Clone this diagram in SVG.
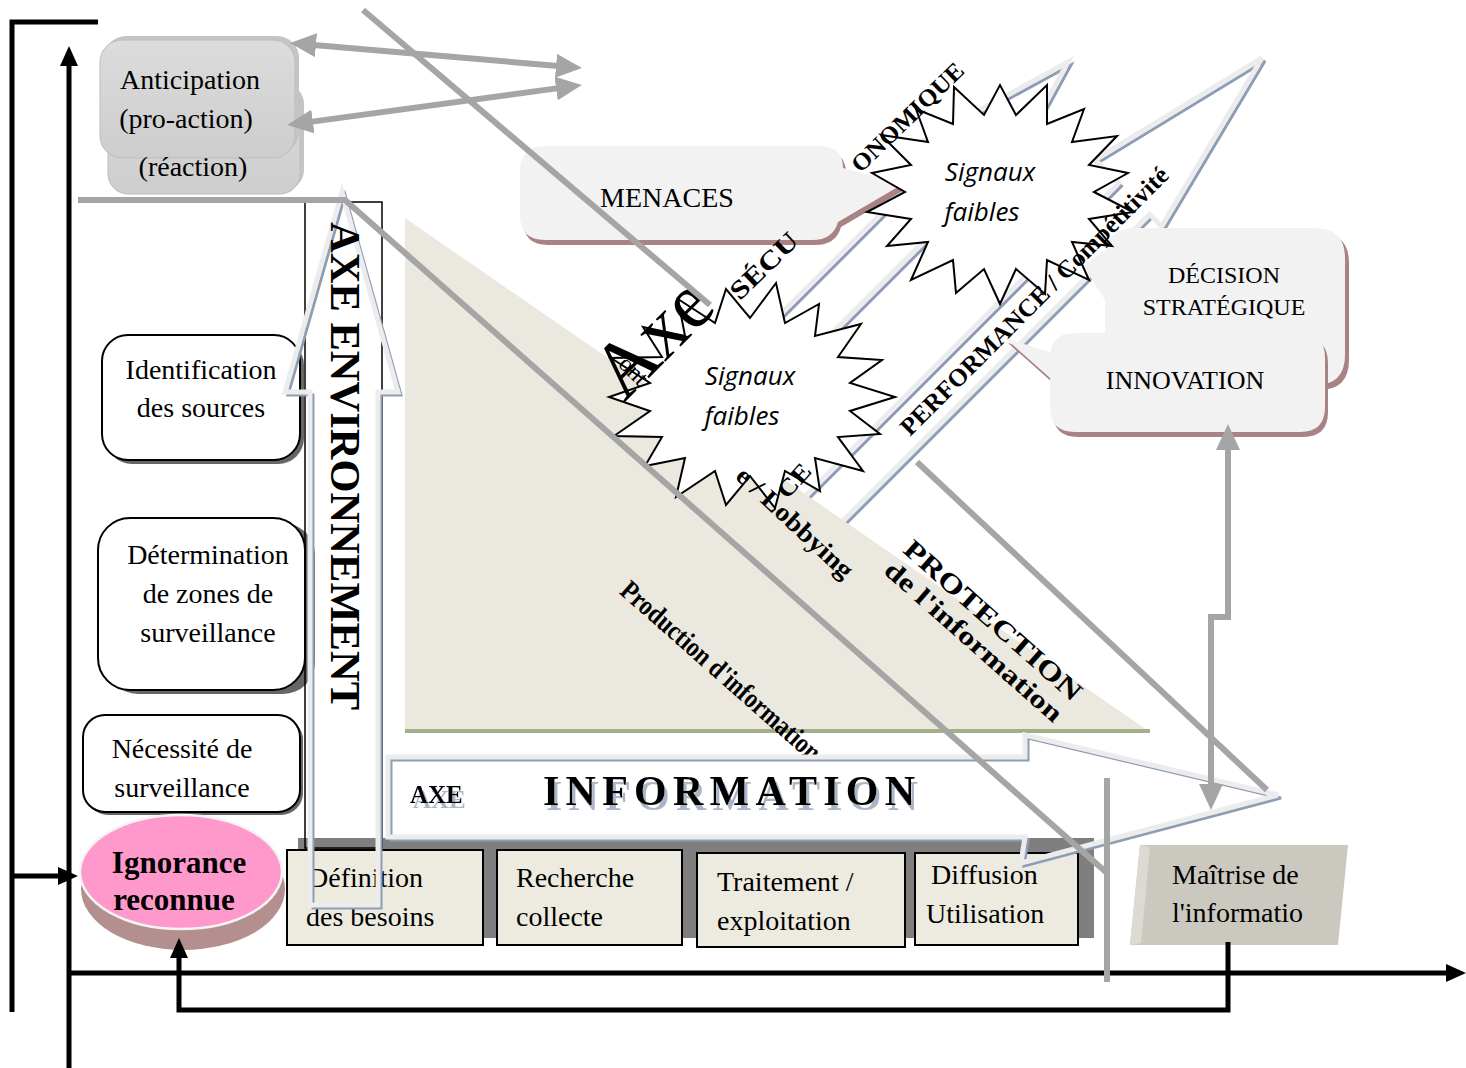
<svg xmlns="http://www.w3.org/2000/svg" width="1466" height="1068" viewBox="0 0 1466 1068">
<defs>
<style>
.serif{font-family:'Liberation Serif','Times New Roman',serif;fill:#000}
.t28{font-size:28px}
.b{font-weight:bold}
.sig{font-family:'Open Sans','Liberation Sans',sans-serif;font-style:italic;font-size:26px;text-anchor:middle;fill:#000}
.gl{stroke:#a5a5a5;stroke-width:6;fill:none}
.bl{stroke:#000;stroke-width:5;fill:none;stroke-linejoin:miter}
.hs{fill:none;stroke:#8d9db3;stroke-width:3}
.ho{fill:none;stroke:#ececec;stroke-width:5}
.cs{fill:#a98383}
.cf{fill:#f2f2f2}
.box{fill:#edebe0;stroke:#000;stroke-width:2}
.wb{fill:#fff;stroke:#000;stroke-width:2}
.star{fill:#fff;stroke:#000;stroke-width:2}
</style>
<linearGradient id="gg" x1="0" y1="0" x2="0" y2="1">
<stop offset="0" stop-color="#dcdcdc"/><stop offset="1" stop-color="#cdcdcd"/>
</linearGradient>
<filter id="tsh" x="-5%" y="-20%" width="115%" height="170%">
<feFlood flood-color="#aab5c8"/><feComposite in2="SourceAlpha" operator="in"/><feOffset dx="3" dy="5" result="s"/>
<feMerge><feMergeNode in="s"/><feMergeNode in="SourceGraphic"/></feMerge>
</filter>
<marker id="ge" viewBox="0 0 26 24" refX="8" refY="12" markerWidth="26" markerHeight="24" markerUnits="userSpaceOnUse" orient="auto"><path d="M0,0 L26,12 L0,24 Z" fill="#a5a5a5"/></marker>
<marker id="gs" viewBox="0 0 26 24" refX="18" refY="12" markerWidth="26" markerHeight="24" markerUnits="userSpaceOnUse" orient="auto"><path d="M26,0 L0,12 L26,24 Z" fill="#a5a5a5"/></marker>
<marker id="be" viewBox="0 0 20 18" refX="6" refY="9" markerWidth="20" markerHeight="18" markerUnits="userSpaceOnUse" orient="auto"><path d="M0,0 L20,9 L0,18 Z" fill="#000"/></marker>
<polygon id="a1" points="0,0 -170,50 -170,25 -600,25 -600,-25 -170,-25 -170,-50"/>
<polygon id="a2" points="0,0 -190,48 -190,31 -660,31 -660,-13 -190,-13 -190,-46"/>
<polygon id="ae" points="342,192 398,392 378,392 378,905 310,905 310,392 285,392"/>
<polygon id="ai" points="388,757 1025,757 1025,735 1278,795 1021,863 1025,837 388,837"/>
</defs>
<rect width="1466" height="1068" fill="#fff"/>

<g id="black-axes">
<path class="bl" stroke-width="6" d="M12,1012 V22 H98"/>
<path class="bl" d="M12,876 H64" marker-end="url(#be)"/>
<path class="bl" d="M69,1068 V60" marker-end="url(#be)"/>
<path class="bl" d="M69,973 H1452" marker-end="url(#be)"/>
</g>

<g id="anticipation">
<rect x="112" y="84" width="192" height="106" rx="20" fill="#c4c4c4"/>
<rect x="108" y="88" width="192" height="106" rx="20" fill="url(#gg)" stroke="#bdbdbd"/>
<rect x="104" y="36" width="195" height="118" rx="22" fill="#c4c4c4"/>
<rect x="100" y="40" width="195" height="118" rx="22" fill="url(#gg)" stroke="#bdbdbd"/>
<text class="serif t28" text-anchor="middle" x="190" y="89">Anticipation</text>
<text class="serif t28" text-anchor="middle" x="186" y="128">(pro-action)</text>
<text class="serif t28" text-anchor="middle" x="193" y="176">(réaction)</text>
</g>

<g id="axe-securite-arrow">
<use href="#a1" class="hs" transform="translate(1071,65) rotate(-45)"/>
<use href="#a1" class="ho" transform="translate(1068,62) rotate(-45)"/>
</g>
<g id="performance-arrow">
<use href="#a2" class="hs" transform="translate(1265,61) rotate(-45)"/>
<use href="#a2" class="ho" transform="translate(1262,58) rotate(-45)"/>
</g>

<g id="menaces">
<path class="cs" transform="translate(3,5)" d="M545,146 H818 Q843,146 843,168 L903,184 L838,222 Q833,240 812,240 H545 Q520,240 520,215 V171 Q520,146 545,146 Z"/>
<path class="cf" d="M545,146 H818 Q843,146 843,168 L903,184 L838,222 Q833,240 812,240 H545 Q520,240 520,215 V171 Q520,146 545,146 Z"/>
<text class="serif t28" text-anchor="middle" x="667" y="207">MENACES</text>
</g>

<g id="decision">
<path class="cs" transform="translate(4,5)" d="M1135,228 H1315 Q1345,228 1345,258 V355 Q1345,385 1315,385 H1135 Q1105,385 1105,355 V300 L1083,266 L1105,250 V258 Q1105,228 1135,228 Z"/>
<path class="cf" d="M1135,228 H1315 Q1345,228 1345,258 V355 Q1345,385 1315,385 H1135 Q1105,385 1105,355 V300 L1083,266 L1105,250 V258 Q1105,228 1135,228 Z"/>
<text class="serif" font-size="24" text-anchor="middle" x="1224" y="283">DÉCISION</text>
<text class="serif" font-size="24" text-anchor="middle" x="1224" y="315">STRATÉGIQUE</text>
</g>

<g id="innovation">
<path class="cs" transform="translate(3,5)" d="M1075,333 H1300 Q1325,333 1325,358 V407 Q1325,432 1300,432 H1075 Q1050,432 1050,407 V378 L1005,338 L1050,352 V358 Q1050,333 1075,333 Z"/>
<path class="cf" d="M1075,333 H1300 Q1325,333 1325,358 V407 Q1325,432 1300,432 H1075 Q1050,432 1050,407 V378 L1005,338 L1050,352 V358 Q1050,333 1075,333 Z"/>
<text class="serif" font-size="26" text-anchor="middle" x="1185" y="389">INNOVATION</text>
</g>

<g id="triangle">
<polygon points="405,218 1150,732 405,732" fill="#ebe9df"/>
<line x1="405" y1="731" x2="1150" y2="731" stroke="#a3ae8b" stroke-width="4"/>
<text class="serif b" font-size="27" text-anchor="middle" transform="translate(987,627) rotate(41.5)" textLength="228" lengthAdjust="spacingAndGlyphs">PROTECTION</text>
<text class="serif b" font-size="26" text-anchor="middle" transform="translate(968,648) rotate(41.5)" textLength="228" lengthAdjust="spacingAndGlyphs">de l'information</text>
<text class="serif b" font-size="28" text-anchor="middle" transform="translate(715,678) rotate(41.4)" textLength="257" lengthAdjust="spacingAndGlyphs">Production d'information</text>
</g>

<g id="signaux-1">
<polygon class="star" points="895,397 850,411 880,434 838,437 863,471 815,458 820,491 785,471 775,508 750,476 726,505 715,471 676,497 685,458 645,466 662,437 614,436 650,411 609,397 650,383 611,358 662,357 643,327 685,336 678,299 715,323 726,289 750,318 776,283 785,323 819,304 815,336 861,324 838,357 882,360 850,383"/>
<text class="sig" x="750" y="385">Signaux</text>
<text class="sig" x="742" y="425">faibles</text>
</g>
<g id="signaux-2">
<polygon class="star" points="1094,192 1133,212 1089,219 1112,246 1072,242 1089,280 1047,260 1045,294 1016,269 1000,304 984,269 956,293 953,260 911,280 928,242 887,246 911,219 867,212 905,192 872,173 911,165 881,135 928,142 916,109 953,124 954,87 984,115 1000,85 1016,115 1047,85 1047,124 1084,109 1072,142 1117,136 1089,165 1128,173"/>
<text class="sig" x="990" y="181">Signaux</text>
<text class="sig" x="982" y="221">faibles</text>
</g>

<g id="arrow-labels">
<text class="serif" font-size="80" text-anchor="middle" transform="translate(671,356) rotate(-45)">Axe</text>
<text class="serif" font-size="24" text-anchor="middle" transform="translate(628,376) rotate(45)">ont</text>
<text class="serif b" font-size="26" text-anchor="middle" transform="translate(770,272) rotate(-44)" textLength="84" lengthAdjust="spacingAndGlyphs">SÉCU</text>
<text class="serif b" font-size="24" text-anchor="middle" transform="translate(913,123) rotate(-44)" textLength="146" lengthAdjust="spacingAndGlyphs">ONOMIQUE</text>
<text class="serif b" font-size="24" text-anchor="middle" transform="translate(800,486) rotate(-48)" textLength="38" lengthAdjust="spacingAndGlyphs">CE</text>
<text class="serif b" font-size="25" text-anchor="middle" transform="translate(1040,307) rotate(-45)" textLength="368" lengthAdjust="spacingAndGlyphs">PERFORMANCE / Compétitivité</text>
<text class="serif b" font-size="26" text-anchor="middle" transform="translate(789,529) rotate(43)" textLength="150" lengthAdjust="spacingAndGlyphs">e / Lobbying</text>
</g>

<g id="identification">
<rect x="106" y="339" width="198" height="125" rx="26" fill="#666"/>
<rect x="102" y="335" width="198" height="125" rx="26" class="wb"/>
<text class="serif t28" text-anchor="middle" x="201" y="379">Identification</text>
<text class="serif t28" text-anchor="middle" x="201" y="417">des sources</text>
</g>
<g id="determination">
<rect x="106" y="523" width="209" height="171" rx="32" fill="#666"/>
<rect x="98" y="518" width="207" height="172" rx="32" class="wb"/>
<text class="serif t28" text-anchor="middle" x="208" y="564">Détermination</text>
<text class="serif t28" text-anchor="middle" x="208" y="603">de zones de</text>
<text class="serif t28" text-anchor="middle" x="208" y="642">surveillance</text>
</g>
<g id="necessite">
<rect x="86" y="718" width="217" height="97" rx="22" fill="#666"/>
<rect x="83" y="715" width="217" height="97" rx="22" class="wb"/>
<text class="serif t28" text-anchor="middle" x="182" y="758">Nécessité de</text>
<text class="serif t28" text-anchor="middle" x="182" y="797">surveillance</text>
</g>

<g id="ignorance">
<ellipse cx="183" cy="889" rx="102" ry="61" fill="#b38f8f"/>
<ellipse cx="181" cy="872" rx="101" ry="57" fill="#ff99cc" stroke="#f4f4f4" stroke-width="2.5"/>
<text class="serif b" font-size="31" text-anchor="middle" x="179" y="873">Ignorance</text>
<text class="serif b" font-size="31" text-anchor="middle" x="174" y="910">reconnue</text>
</g>

<g id="process-shadow"><rect x="298" y="838" width="796" height="100" fill="#7f7f7f"/></g>
<g id="definition">
<rect x="287" y="850" width="196" height="95" class="box"/>
<text class="serif t28" x="308" y="887">Définition</text>
<text class="serif t28" x="306" y="926">des besoins</text>
</g>
<g id="recherche">
<rect x="497" y="850" width="185" height="95" class="box"/>
<text class="serif t28" x="516" y="887">Recherche</text>
<text class="serif t28" x="516" y="926">collecte</text>
</g>
<g id="traitement">
<rect x="697" y="853" width="208" height="94" class="box"/>
<text class="serif t28" x="717" y="891">Traitement /</text>
<text class="serif t28" x="717" y="930">exploitation</text>
</g>
<g id="diffusion">
<rect x="915" y="853" width="163" height="92" class="box"/>
<text class="serif t28" x="931" y="884">Diffusion</text>
<text class="serif t28" x="926" y="923">Utilisation</text>
</g>

<g id="axe-environnement">
<rect x="305" y="202" width="77" height="646" fill="none" stroke="#000" stroke-width="1.5"/>
<use href="#ae" class="hs" transform="translate(3,3)"/>
<use href="#ae" class="ho"/>
<text class="serif b" font-size="42" text-anchor="middle" transform="translate(331,466) rotate(90)" textLength="488" lengthAdjust="spacingAndGlyphs">AXE ENVIRONNEMENT</text>
</g>

<g id="axe-information">
<rect x="388" y="757" width="637" height="80" fill="#fff"/>
<use href="#ai" class="hs" transform="translate(3,3)"/>
<use href="#ai" class="ho"/>
<text class="serif b" font-size="25" x="410" y="803" filter="url(#tsh)">AXE</text>
<text class="serif b" font-size="42" x="543" y="805" textLength="372" lengthAdjust="spacing" filter="url(#tsh)">INFORMATION</text>
</g>

<g id="maitrise">
<polygon points="1140,845 1348,845 1338,945 1130,945" fill="#cbc8bf"/>
<polygon points="1130,945 1140,845 1150,847 1141,943" fill="#dcdad3"/>
<text class="serif t28" x="1172" y="884">Maîtrise de</text>
<text class="serif t28" x="1172" y="922">l'informatio</text>
</g>

<g id="connectors">
<path class="gl" d="M78,200 H345 L1107,873"/>
<line class="gl" x1="363" y1="10" x2="710" y2="305"/>
<line class="gl" x1="1107" y1="778" x2="1107" y2="982"/>
<line class="gl" x1="917" y1="462" x2="1267" y2="790"/>
<path class="gl" d="M1228,442 V617 H1211 V792" marker-start="url(#gs)" marker-end="url(#ge)"/>
<line class="gl" x1="308" y1="44.5" x2="564" y2="66.5" marker-start="url(#gs)" marker-end="url(#ge)"/>
<line class="gl" x1="305" y1="122.6" x2="564" y2="87.4" marker-start="url(#gs)" marker-end="url(#ge)"/>
<path class="bl" stroke-width="6" d="M1228,942 V1010 H179 V952" marker-end="url(#be)"/>
</g>
</svg>
